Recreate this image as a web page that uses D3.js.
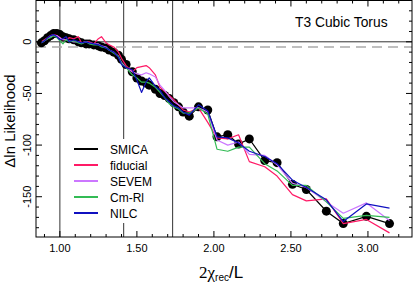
<!DOCTYPE html>
<html>
<head>
<meta charset="utf-8">
<script src="https://cdn.jsdelivr.net/npm/d3@7"></script>
<style>
  body { margin: 0; background: #fff; }
  svg { display: block; font-family: "Liberation Sans", Arial, sans-serif; }
</style>
</head>
<body>
<div id="chart"></div>
<script>
// x grid (2 chi_rec / L), shared by all five maps
var xs = [0.88,0.90,0.92,0.94,0.96,0.98,1.00,1.02,1.04,1.06,1.09,1.12,1.14,1.17,1.19,1.22,
          1.25,1.27,1.30,1.32,1.35,1.38,1.40,1.43,1.47,1.50,1.53,1.56,1.58,1.62,1.65,1.68,
          1.71,1.74,1.77,1.80,1.84,1.90,1.96,2.02,2.09,2.16,2.23,2.33,2.41,2.51,2.60,2.73,
          2.84,2.99,3.14];

var smica    = [-1,1,4,6,8,8,7,5,4,3,2,0,-1,-2,-2,-3,-4,-5,-6,-8,-10,-13,-17,-22,-29,-35,
                -38,-40,-42,-46,-50,-52,-55,-59,-63,-68,-72,-63,-66,-92,-90,-99,-94,-115,-117,-138,
                -143,-164,-176,-169,-176];
var fiducial = [0,2,4,6,7,6,4,2,2,4,3,5,-1,0,0,-2,3,5,-1,-3,-5,-10,-16,-23,-29,-25,
                -24,-23,-25,-32,-44,-48,-52,-56,-61,-66,-68,-64,-78,-93,-94,-90,-116,-121,-130,-148,
                -154,-152,-176,-172,-185];
var sevem    = [-1,1,3,5,6,6,4,2,2,1,0,0,-1,0,-1,-2,-2,-4,-5,-8,-10,-14,-20,-25,-29,-31,
                -32,-30,-31,-34,-42,-47,-53,-58,-61,-64,-64,-64,-68,-95,-100,-97,-109,-110,-119,-137,
                -141,-155,-166,-156,-173];
var cmrl     = [-1,1,3,4,6,4,1,-2,2,0,1,-1,-2,0,-2,-3,-3,-5,-6,-8,-11,-14,-21,-25,-32,-35,
                -39,-39,-40,-44,-49,-54,-60,-63,-65,-69,-69,-64,-70,-104,-106,-102,-102,-118,-125,-139,
                -139,-155,-171,-168,-170];
var nilc     = [-1,1,4,6,7,5,2,3,5,0,2,0,-1,0,-1,-2,-3,-4,-6,-8,-10,-15,-22,-25,-27,-37,
                -49,-39,-35,-43,-47,-54,-58,-62,-64,-68,-71,-61,-67,-92,-93,-98,-106,-111,-118,-134,
                -141,-153,-174,-157,-161];

var names  = ['SMICA', 'fiducial', 'SEVEM', 'Cm-Rl', 'NILC'];
var colors = ['#000000', '#ff1a66', '#cc77ff', '#33bb55', '#1010c0'];
var series = [smica, fiducial, sevem, cmrl, nilc];

var xTicks = [1.0, 1.5, 2.0, 2.5, 3.0];
var yTicks = [0, -50, -100, -150];
var refX = [1, Math.SQRT2, Math.sqrt(3)];

var W = 415, H = 283;
var pLeft = 36, pRight = 412, pTop = 0.5, pBottom = 237;

var x = d3.scaleLinear().domain([0.845, 3.286]).range([pLeft, pRight]);
var y = d3.scaleLinear().domain([-189, 40]).range([pBottom, pTop]);

var svg = d3.select('#chart')
    .append('svg')
        .attr('width', W)
        .attr('height', H);

// reference lines
svg.append('g').selectAll('line')
    .data(refX)
    .enter().append('line')
        .attr('x1', d => x(d)).attr('x2', d => x(d))
        .attr('y1', pTop).attr('y2', pBottom)
        .attr('stroke', '#333').attr('stroke-width', 1);

svg.append('line')
    .attr('x1', pLeft).attr('x2', pRight)
    .attr('y1', y(0)).attr('y2', y(0))
    .attr('stroke', '#333').attr('stroke-width', 1);

svg.append('line')
    .attr('x1', pLeft).attr('x2', pRight)
    .attr('y1', y(-5)).attr('y2', y(-5))
    .attr('stroke', '#aaa').attr('stroke-width', 1.5)
    .attr('stroke-dasharray', '10,6');

// curves
var line = d3.line()
    .x((d, i) => x(xs[i]))
    .y(d => y(d));

svg.append('path')
    .attr('d', line(smica))
    .attr('fill', 'none')
    .attr('stroke', colors[0])
    .attr('stroke-width', 1.2);

svg.append('g').selectAll('circle')
    .data(smica)
    .enter().append('circle')
        .attr('cx', (d, i) => x(xs[i]))
        .attr('cy', d => y(d))
        .attr('r', 4.5)
        .attr('fill', '#000');

svg.append('g').selectAll('path')
    .data(series.slice(1))
    .enter().append('path')
        .attr('d', d => line(d))
        .attr('fill', 'none')
        .attr('stroke', (d, i) => colors[i + 1])
        .attr('stroke-width', 1.2)
        .attr('stroke-linejoin', 'round');

// legend
var legend = svg.append('g');
legend.append('rect')
    .attr('x', 66).attr('y', 139)
    .attr('width', 100).attr('height', 84)
    .attr('fill', '#fff');

var items = legend.selectAll('g')
    .data(names)
    .enter().append('g')
        .attr('transform', (d, i) => 'translate(0,' + (149 + i * 16) + ')');

items.append('line')
    .attr('x1', 74).attr('x2', 98)
    .attr('y1', 0).attr('y2', 0)
    .attr('stroke', (d, i) => colors[i])
    .attr('stroke-width', 2);

items.append('text')
    .attr('x', 110).attr('y', 4.5)
    .attr('font-size', 12)
    .text(d => d);

// frame + inward ticks
svg.append('rect')
    .attr('x', pLeft).attr('y', pTop)
    .attr('width', pRight - pLeft).attr('height', pBottom - pTop)
    .attr('fill', 'none').attr('stroke', '#000').attr('stroke-width', 1);

var xMinor = d3.range(9, 33).map(d => d / 10);
var yMinor = d3.range(-180, 41, 10);

var ticks = svg.append('g').attr('stroke', '#000').attr('stroke-width', 1);
xMinor.forEach(function(v) {
    var len = xTicks.some(t => Math.abs(t - v) < 1e-9) ? 6 : 3;
    ticks.append('line').attr('x1', x(v)).attr('x2', x(v)).attr('y1', pBottom).attr('y2', pBottom - len);
    ticks.append('line').attr('x1', x(v)).attr('x2', x(v)).attr('y1', pTop).attr('y2', pTop + len);
});
yMinor.forEach(function(v) {
    var len = v % 50 == 0 ? 6 : 3;
    ticks.append('line').attr('x1', pLeft).attr('x2', pLeft + len).attr('y1', y(v)).attr('y2', y(v));
    ticks.append('line').attr('x1', pRight).attr('x2', pRight - len).attr('y1', y(v)).attr('y2', y(v));
});

// tick labels
svg.append('g').selectAll('text')
    .data(xTicks)
    .enter().append('text')
        .attr('x', d => x(d))
        .attr('y', 252)
        .attr('text-anchor', 'middle')
        .attr('font-size', 11)
        .text(d => d.toFixed(2));

svg.append('g').selectAll('text')
    .data(yTicks)
    .enter().append('text')
        .attr('transform', d => 'translate(31,' + y(d) + ') rotate(-90)')
        .attr('text-anchor', 'middle')
        .attr('font-size', 11)
        .text(d => d);

// titles
svg.append('text')
    .attr('x', 295).attr('y', 27)
    .attr('font-size', 13.8)
    .text('T3 Cubic Torus');

svg.append('text')
    .attr('transform', 'translate(15,121) rotate(-90)')
    .attr('text-anchor', 'middle')
    .attr('font-size', 15)
    .text('\u0394ln Likelihood');

var xt = svg.append('text')
    .attr('x', 199).attr('y', 278)
    .attr('font-size', 17);
xt.append('tspan').attr('font-family', '"Liberation Serif", "DejaVu Serif", serif').text('2\u03c7');
xt.append('tspan').attr('font-size', 10).attr('dy', 3).text('rec');
xt.append('tspan').attr('dy', -3).text('/L');
</script>
</body>
</html>
